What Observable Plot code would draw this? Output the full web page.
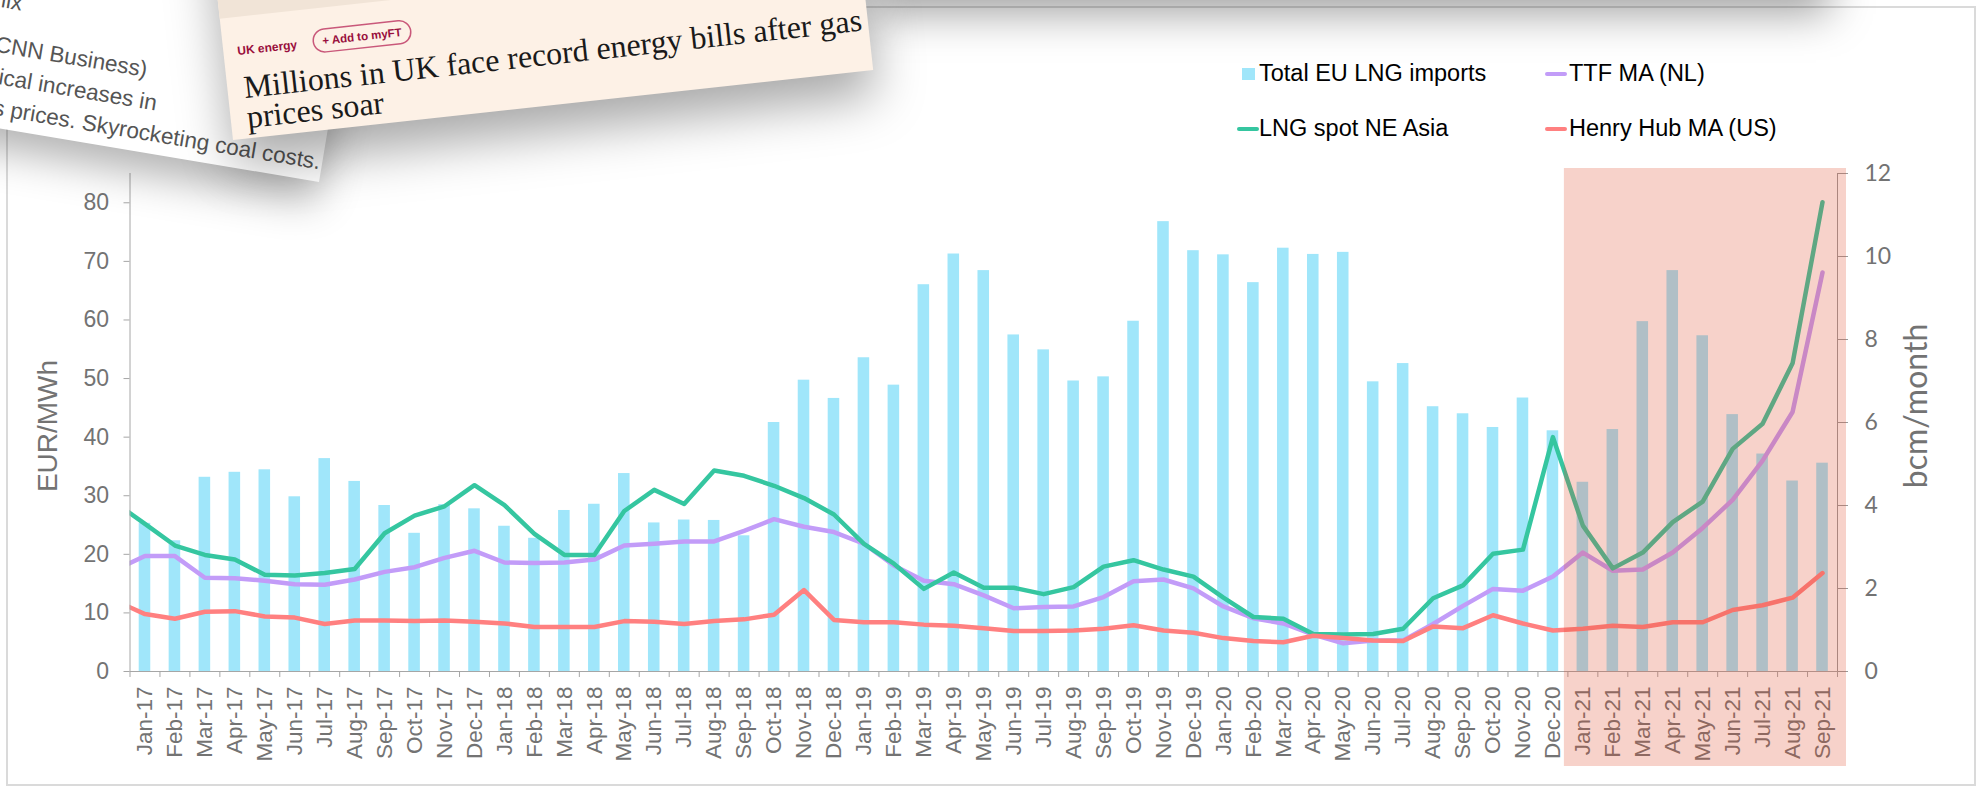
<!DOCTYPE html>
<html>
<head>
<meta charset="utf-8">
<script src="https://cdn.jsdelivr.net/npm/d3@7"></script>
<script src="https://cdn.jsdelivr.net/npm/@observablehq/plot@0.6"></script>
<style>
  html, body { margin: 0; padding: 0; background: #fff; }
  #wrap { position: relative; width: 1977px; height: 786px; overflow: hidden; background: #fff;
          font-family: "Liberation Sans", Arial, sans-serif; }
  #frame { position: absolute; left: 6px; top: 6px; width: 1970px; height: 780px;
           border: 2px solid #dadada; box-sizing: border-box; }
  #chart { position: absolute; left: 0; top: 0; }
  .lt { position: absolute; transform: translateY(-50%); font-size: 23.5px; line-height: 1;
        color: #000; white-space: nowrap; }
  .lk { position: absolute; }
  .atitle { position: absolute; line-height: 1; white-space: nowrap; color: #737373;
            transform: translate(-50%, -50%) rotate(-90deg); }
  #topShadow { position: absolute; left: 872px; top: -300px; width: 958px; height: 300px;
               background: #fff; box-shadow: 0 14px 40px rgba(0,0,0,0.36); }
  #cnn { position: absolute; left: -405px; top: -138px; width: 724px; height: 320px; background: #fff;
         transform-origin: 100% 100%; transform: rotate(9.5deg);
         box-shadow: 0 20px 42px rgba(0,0,0,0.30); }
  #ft { position: absolute; left: 233px; top: -160px; width: 644px; height: 300px; background: #fdf1e6;
        transform-origin: 0 100%; transform: rotate(-6.24deg);
        box-shadow: 0 26px 50px rgba(0,0,0,0.34); }
  #cnn svg, #ft svg { position: absolute; left: 0; top: 0; overflow: visible; }
</style>
</head>
<body>
<div id="wrap">
  <div id="frame"></div>
  <div id="chart"></div>

  <div class="atitle" style="left:48px; top:426px; font-size:28px; font-family:'Liberation Sans', Arial, sans-serif;">EUR/MWh</div>
  <div class="atitle" style="left:1915px; top:406px; font-size:32px; font-family:Lato, 'Open Sans', sans-serif;">bcm/month</div>

  <div id="legend"></div>

  <div id="topShadow"></div>
  <div id="cnn">
    <svg width="724" height="320">
      <g font-family="Liberation Sans, Arial, sans-serif" font-size="22.5" fill="#555555" text-anchor="end">
        <text x="402" y="200">mix</text>
        <text x="536" y="245">Energy crunch (CNN Business)</text>
        <text x="551" y="276.5">historical increases in</text>
        <text x="722" y="307.5">natural gas prices. Skyrocketing coal costs.</text>
      </g>
    </svg>
  </div>
  <div id="ft">
    <svg width="644" height="300">
      <rect x="0" y="0" width="644" height="178" fill="#f1e4d7"></rect>
      <text x="14" y="216" font-family="Liberation Sans, Arial, sans-serif" font-size="12" font-weight="bold" fill="#990f3d">UK energy</text>
      <rect x="90.5" y="199.5" width="98" height="23" rx="11.5" ry="11.5" fill="none" stroke="#c9587a" stroke-width="1.5"></rect>
      <text x="139.5" y="215" text-anchor="middle" font-family="Liberation Sans, Arial, sans-serif" font-size="11.5" font-weight="bold" fill="#990f3d">+ Add to myFT</text>
      <g font-family="Liberation Serif, 'Times New Roman', serif" font-size="32" fill="#1a1a1a">
        <text x="16.5" y="259.6">Millions in UK face record energy bills after gas</text>
        <text x="16.2" y="289.7">prices soar</text>
      </g>
    </svg>
  </div>
</div>

<script>
// ---------------- data ----------------
const months = [
  "Jan-17","Feb-17","Mar-17","Apr-17","May-17","Jun-17","Jul-17","Aug-17","Sep-17","Oct-17","Nov-17","Dec-17",
  "Jan-18","Feb-18","Mar-18","Apr-18","May-18","Jun-18","Jul-18","Aug-18","Sep-18","Oct-18","Nov-18","Dec-18",
  "Jan-19","Feb-19","Mar-19","Apr-19","May-19","Jun-19","Jul-19","Aug-19","Sep-19","Oct-19","Nov-19","Dec-19",
  "Jan-20","Feb-20","Mar-20","Apr-20","May-20","Jun-20","Jul-20","Aug-20","Sep-20","Oct-20","Nov-20","Dec-20",
  "Jan-21","Feb-21","Mar-21","Apr-21","May-21","Jun-21","Jul-21","Aug-21","Sep-21"
];

// Total EU LNG imports, bcm/month (right axis)
const lngImports = [
  3.57, 3.15, 4.68, 4.80, 4.86, 4.21, 5.13, 4.58, 4.00, 3.33, 4.02, 3.92,
  3.50, 3.21, 3.88, 4.03, 4.77, 3.58, 3.65, 3.64, 3.27, 6.00, 7.02, 6.58,
  7.56, 6.90, 9.32, 10.06, 9.66, 8.11, 7.75, 7.00, 7.10, 8.44, 10.84, 10.14,
  10.04, 9.37, 10.20, 10.05, 10.10, 6.98, 7.42, 6.38, 6.21, 5.88, 6.59, 5.80,
  4.56, 5.83, 8.43, 9.66, 8.09, 6.19, 5.24, 4.59, 5.02
];

// price lines start one month earlier (Dec-16), cut off at the left axis
const lineMonths = ["Dec-16", ...months];

// TTF MA (NL), EUR/MWh
const ttfMA = [
  17.3,
  19.7, 19.7, 16.0, 15.9, 15.5, 14.9, 14.8, 15.7, 17.0, 17.8, 19.4, 20.6,
  18.6, 18.5, 18.6, 19.1, 21.5, 21.8, 22.2, 22.2, 24.0, 26.0, 24.7, 23.8,
  21.8, 18.1, 15.5, 14.9, 13.0, 10.8, 11.0, 11.1, 12.7, 15.4, 15.7, 14.2,
  11.1, 9.1, 8.2, 6.3, 4.8, 5.3, 5.3, 8.1, 11.2, 14.1, 13.8, 16.2,
  20.3, 17.2, 17.4, 20.3, 24.5, 29.3, 36.0, 44.3, 68.1
];

// LNG spot NE Asia, EUR/MWh
const lngSpotAsia = [
  28.8,
  25.2, 21.5, 19.9, 19.1, 16.5, 16.4, 16.8, 17.5, 23.6, 26.6, 28.2, 31.8,
  28.4, 23.5, 19.9, 19.9, 27.4, 31.0, 28.6, 34.3, 33.4, 31.7, 29.6, 26.8,
  21.8, 18.4, 14.1, 16.9, 14.3, 14.3, 13.2, 14.4, 17.9, 19.0, 17.4, 16.2,
  12.6, 9.3, 9.0, 6.4, 6.3, 6.4, 7.3, 12.5, 14.7, 20.1, 20.8, 40.0,
  24.9, 17.6, 20.3, 25.5, 29.0, 38.0, 42.3, 52.6, 80.1
];

// Henry Hub MA (US), EUR/MWh
const henryHubMA = [
  12.1,
  9.8, 9.0, 10.2, 10.3, 9.4, 9.2, 8.1, 8.7, 8.7, 8.6, 8.7, 8.5,
  8.2, 7.6, 7.6, 7.6, 8.6, 8.5, 8.1, 8.6, 8.9, 9.7, 13.9, 8.8,
  8.4, 8.4, 8.0, 7.8, 7.4, 6.9, 6.9, 7.0, 7.3, 7.9, 7.0, 6.6,
  5.7, 5.2, 5.0, 6.1, 5.7, 5.3, 5.2, 7.7, 7.4, 9.6, 8.2, 7.0,
  7.3, 7.8, 7.6, 8.4, 8.4, 10.5, 11.3, 12.6, 16.8
];

const leftTicks = [0, 10, 20, 30, 40, 50, 60, 70, 80];
const rightTicks = [0, 2, 4, 6, 8, 10, 12];
const highlightFrom = "Jan-21";
const highlightTo = "Sep-21";

const seriesNames = ["Total EU LNG imports", "TTF MA (NL)", "LNG spot NE Asia", "Henry Hub MA (US)"];
const colors = {
  "Total EU LNG imports": "#a0e6fa",
  "TTF MA (NL)": "#c29cf8",
  "LNG spot NE Asia": "#35c6a0",
  "Henry Hub MA (US)": "#ff8080"
};

// ---------------- scales ----------------
const Y_MAX = 85;          // left axis top, EUR/MWh
const R_MAX = 12;          // right axis top, bcm/month
const K = Y_MAX / R_MAX;   // bcm -> left-axis units

const barData = months.map((m, i) => ({ month: m, i, bcm: lngImports[i] }));
const lineSeries = [
  { name: "TTF MA (NL)", values: ttfMA },
  { name: "LNG spot NE Asia", values: lngSpotAsia },
  { name: "Henry Hub MA (US)", values: henryHubMA }
];
const lineData = lineSeries.flatMap(s =>
  s.values.map((v, j) => ({ series: s.name, month: lineMonths[j], x: j - 0.5, v })));

const hiStart = months.indexOf(highlightFrom);
const hiEnd = months.indexOf(highlightTo) + 1;

const grayText = "#737373";
const axisGray = "#a6a6a6";

const chart = Plot.plot({
  width: 1977,
  height: 786,
  marginLeft: 129.5,
  marginRight: 140,
  marginTop: 173,
  marginBottom: 115,
  style: { background: "transparent", overflow: "visible", fontFamily: "'Liberation Sans', Arial, sans-serif" },
  x: { type: "linear", domain: [0, months.length], axis: null },
  y: { domain: [0, Y_MAX], axis: null },
  marks: [
    // bars (right-axis quantity scaled to left units)
    Plot.rect(barData, {
      x1: d => d.i, x2: d => d.i + 1, y1: 0, y2: d => d.bcm * K,
      fill: colors["Total EU LNG imports"], insetLeft: 9.2, insetRight: 9.2
    }),
    // price lines
    ...lineSeries.map(s => Plot.line(lineData.filter(d => d.series === s.name), {
      x: "x", y: "v", stroke: colors[s.name], strokeWidth: 4.5,
      strokeLinejoin: "round", clip: true
    })),
    // axis lines
    Plot.ruleX([0], { stroke: axisGray }),
    Plot.ruleX([months.length], { stroke: "#9a9a9a" }),
    Plot.ruleY([0], { stroke: axisGray }),
    // left axis
    Plot.axisY({
      anchor: "left", ticks: leftTicks, tickSize: 6, tickPadding: 15,
      fontSize: 23, fill: grayText, stroke: axisGray, label: null
    }),
    // right axis (bcm/month)
    Plot.axisY({
      anchor: "right", ticks: rightTicks.map(v => v * K),
      tickFormat: d => String(Math.round(d / K)),
      tickSize: 10, tickPadding: 17, fontSize: 23, fontFamily: "Lato, 'Open Sans', sans-serif",
      fill: grayText, stroke: "#9a9a9a", label: null
    }),
    // x tick marks at category boundaries
    Plot.axisX({
      anchor: "bottom", ticks: d3.range(0, months.length + 1), tickSize: 6,
      tickFormat: () => "", stroke: axisGray, label: null
    }),
    // x labels at category centres
    Plot.axisX({
      anchor: "bottom", ticks: months.map((m, i) => i + 0.5),
      tickFormat: d => months[Math.floor(d)], tickSize: 0, tickPadding: 15, tickRotate: -90,
      fontSize: 22.5, fill: grayText, label: null
    }),
    // highlighted period (2021)
    Plot.rect([{ from: highlightFrom, to: highlightTo }], {
      x1: () => hiStart, x2: () => hiEnd, y1: () => 0, y2: () => Y_MAX,
      fill: "#de4d2c", fillOpacity: 0.25,
      insetLeft: -3.5, insetRight: -9, insetTop: -5, insetBottom: -95
    })
  ]
});
document.getElementById("chart").appendChild(chart);

// ---------------- legend ----------------
const legend = document.getElementById("legend");
const legendLayout = [
  { name: seriesNames[0], kind: "box",  kx: 1242, tx: 1259, y: 74 },
  { name: seriesNames[1], kind: "line", kx: 1545, tx: 1569, y: 74 },
  { name: seriesNames[2], kind: "line", kx: 1237, tx: 1259, y: 129 },
  { name: seriesNames[3], kind: "line", kx: 1545, tx: 1569, y: 129 }
];
legendLayout.forEach(it => {
  const key = document.createElement("div");
  key.className = "lk";
  if (it.kind === "box") {
    Object.assign(key.style, { left: it.kx + "px", top: (it.y - 6) + "px", width: "13px", height: "12px", background: colors[it.name] });
  } else {
    Object.assign(key.style, { left: it.kx + "px", top: (it.y - 2.25) + "px", width: "22px", height: "4.5px", background: colors[it.name], borderRadius: "2px" });
  }
  legend.appendChild(key);
  const t = document.createElement("div");
  t.className = "lt";
  t.style.left = it.tx + "px";
  t.style.top = it.y + "px";
  t.textContent = it.name;
  legend.appendChild(t);
});
</script>
</body>
</html>
